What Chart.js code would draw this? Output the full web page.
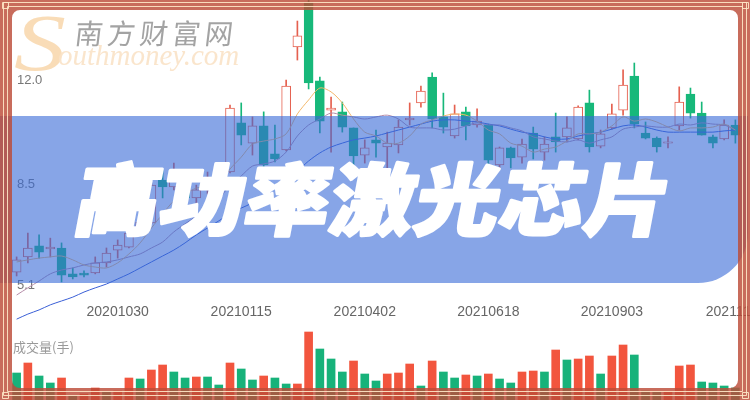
<!DOCTYPE html>
<html>
<head>
<meta charset="utf-8">
<script src="https://cdn.jsdelivr.net/npm/chart.js@4.4.0/dist/chart.umd.min.js"></script>
<style>
  html, body { margin: 0; padding: 0; background: #fff; }
  #wrap { width: 750px; height: 400px; position: relative; overflow: hidden; }
</style>
</head>
<body>
<div id="wrap"><canvas id="kline" width="750" height="400"></canvas></div>
<script>
// weekly candles, 20200828 .. 20211119
const dates = [
  "20200828","20200904","20200911","20200918","20200925","20201002","20201009","20201016","20201023","20201030",
  "20201106","20201113","20201120","20201127","20201204","20201211","20201218","20201225","20210101","20210108",
  "20210115","20210122","20210129","20210205","20210212","20210219","20210226","20210305","20210312","20210319",
  "20210326","20210402","20210409","20210416","20210423","20210430","20210507","20210514","20210521","20210528",
  "20210604","20210611","20210618","20210625","20210702","20210709","20210716","20210723","20210730","20210806",
  "20210813","20210820","20210827","20210903","20210910","20210917","20210924","20211001","20211008","20211015",
  "20211022","20211029","20211105","20211112","20211119"
];
const tickDates = ["20201030", "20210115", "20210402", "20210618", "20210903", "20211119"];
const yTicks = [5.1, 8.5, 12.0];

const openP = [
  5.55, 6.06, 6.43, 6.33, 6.36, 5.49, 5.52, 5.52, 5.86, 6.29,
  6.39, 6.90, 7.20, 8.64, 8.41, 8.58, 8.04, 8.31, 8.64, 8.91,
  10.56, 9.88, 10.46, 9.52, 9.65, 13.11, 14.62, 11.97, 10.99, 10.93,
  10.39, 9.48, 9.99, 9.75, 9.82, 10.66, 11.23, 12.10, 10.76, 10.12,
  10.93, 10.49, 10.49, 9.15, 9.72, 9.41, 10.22, 9.58, 10.09, 10.09,
  10.02, 11.23, 9.78, 10.39, 10.99, 12.13, 10.22, 10.05, 9.88, 10.46,
  11.53, 10.89, 10.09, 10.02, 10.49
];
const highP = [
  6.06, 6.86, 6.80, 6.69, 6.53, 5.69, 5.59, 6.06, 6.36, 6.63,
  7.30, 7.50, 8.54, 8.98, 9.21, 8.81, 8.47, 8.91, 9.15, 11.16,
  11.23, 10.76, 10.93, 10.49, 12.00, 13.98, 14.69, 12.10, 11.43, 11.26,
  10.39, 9.99, 10.32, 10.25, 10.66, 11.23, 11.80, 12.24, 11.56, 11.16,
  11.09, 11.03, 10.52, 9.75, 9.75, 10.02, 10.42, 10.09, 10.89, 10.76,
  11.13, 11.66, 10.32, 11.19, 12.34, 12.57, 10.59, 10.09, 10.09, 11.77,
  11.73, 11.26, 10.15, 10.66, 10.66
];
const lowP = [
  5.42, 5.86, 6.02, 6.06, 5.22, 5.32, 5.39, 5.49, 5.72, 6.02,
  6.36, 6.76, 7.17, 8.04, 8.31, 7.80, 7.87, 8.17, 8.47, 8.88,
  9.82, 9.48, 8.98, 9.25, 9.62, 12.67, 11.70, 10.22, 9.58, 10.25,
  9.05, 9.21, 9.41, 9.05, 9.55, 10.49, 11.09, 10.39, 10.22, 10.05,
  9.99, 10.42, 9.05, 9.05, 9.05, 9.21, 9.35, 9.31, 9.58, 9.92,
  9.99, 9.58, 9.72, 10.35, 10.82, 10.39, 10.02, 9.58, 9.72, 10.32,
  10.72, 10.15, 9.72, 9.99, 9.88
];
const closeP = [
  5.96, 6.36, 6.22, 6.39, 5.45, 5.39, 5.45, 5.86, 6.19, 6.46,
  6.86, 7.23, 8.47, 8.41, 8.64, 8.04, 8.31, 8.71, 8.91, 11.06,
  10.15, 10.46, 9.15, 9.35, 11.80, 13.48, 11.90, 10.62, 11.06, 10.42,
  9.45, 9.72, 9.88, 9.88, 10.42, 10.72, 11.63, 10.69, 10.42, 10.86,
  10.46, 10.62, 9.31, 9.72, 9.38, 9.85, 9.68, 9.85, 9.92, 10.39,
  11.09, 9.75, 10.19, 10.86, 11.83, 10.52, 10.05, 9.75, 9.92, 11.26,
  10.89, 10.15, 9.88, 10.49, 10.15
];
const ma5 = [
  5.89, 5.96, 6.02, 6.06, 6.09, 5.96, 5.79, 5.72, 5.69, 5.86,
  6.16, 6.53, 7.03, 7.50, 7.94, 8.17, 8.37, 8.41, 8.51, 9.01,
  9.41, 9.85, 9.95, 10.02, 10.19, 10.86, 11.33, 11.73, 11.60, 11.23,
  10.69, 10.25, 10.12, 9.88, 9.88, 10.12, 10.52, 10.66, 10.79, 10.86,
  10.82, 10.62, 10.32, 10.19, 9.88, 9.78, 9.58, 9.68, 9.75, 9.95,
  10.19, 10.19, 10.25, 10.46, 10.76, 10.62, 10.69, 10.59, 10.42, 10.29,
  10.39, 10.39, 10.42, 10.52, 10.32
];
const ma10 = [
  4.78, 5.02, 5.25, 5.49, 5.62, 5.69, 5.79, 5.86, 5.89, 5.96,
  6.06, 6.16, 6.36, 6.56, 6.90, 7.17, 7.43, 7.74, 8.00, 8.47,
  8.78, 9.11, 9.18, 9.28, 9.58, 10.12, 10.49, 10.69, 10.89, 10.82,
  10.76, 10.69, 10.76, 10.82, 10.69, 10.42, 10.39, 10.39, 10.32, 10.35,
  10.46, 10.56, 10.49, 10.49, 10.39, 10.29, 10.09, 10.02, 9.95, 9.92,
  9.99, 9.88, 9.99, 10.09, 10.35, 10.42, 10.46, 10.42, 10.42, 10.52,
  10.49, 10.56, 10.52, 10.49, 10.32
];
const ma20 = [
  3.97, 4.14, 4.28, 4.45, 4.58, 4.71, 4.88, 5.02, 5.15, 5.32,
  5.49, 5.69, 5.89, 6.09, 6.29, 6.53, 6.80, 7.03, 7.27, 7.50,
  7.70, 7.87, 8.10, 8.37, 8.64, 8.94, 9.28, 9.55, 9.75, 9.88,
  9.99, 10.05, 10.12, 10.22, 10.32, 10.42, 10.52, 10.62, 10.66, 10.66,
  10.62, 10.59, 10.52, 10.46, 10.35, 10.25, 10.19, 10.09, 10.02, 10.02,
  10.12, 10.19, 10.25, 10.35, 10.46, 10.49, 10.42, 10.32, 10.25, 10.25,
  10.25, 10.25, 10.25, 10.29, 10.32
];
// volume in 千手, and whether the bar is drawn red (1) or green (0)
const volume = [
  27, 37, 24, 17, 22, 4, 6, 12, 8, 9,
  22, 21, 30, 35, 28, 22, 23, 23, 15, 37,
  31, 20, 24, 22, 16, 16, 68, 51, 41, 28,
  39, 26, 19, 26, 27, 36, 14, 39, 28, 22,
  25, 24, 26, 21, 17, 28, 29, 28, 50, 40,
  41, 44, 26, 44, 55, 45, 9, 8, 8, 34,
  35, 18, 17, 14, 12
];
const volUp = [
  0, 1, 0, 0, 1, 0, 1, 1, 0, 1,
  1, 0, 1, 1, 0, 0, 1, 0, 0, 1,
  0, 0, 1, 0, 0, 1, 1, 0, 0, 0,
  1, 0, 0, 1, 1, 1, 0, 1, 0, 0,
  1, 0, 1, 0, 0, 1, 1, 0, 1, 0,
  1, 1, 0, 1, 1, 0, 0, 0, 1, 1,
  1, 0, 0, 0, 0
];

const RED = "#e5604f";
const GREEN = "#17b87a";
const isUp = closeP.map((c, i) => c >= openP[i]);

// overlay: watermark, blue banner, title, frame
const overlay = {
  id: "overlay",
  afterDraw(chart) {
    const ctx = chart.ctx;
    ctx.save();

    // watermark
    ctx.textBaseline = "alphabetic";
    ctx.textAlign = "left";
    ctx.fillStyle = "rgba(248,214,170,0.85)";
    ctx.font = "italic 80px 'Liberation Serif'";
    ctx.save();
    ctx.translate(14, 70);
    ctx.scale(1.3, 1);
    ctx.fillText("S", 0, 0);
    ctx.restore();
    ctx.fillStyle = "rgba(250,226,198,0.9)";
    ctx.font = "italic 29px 'Liberation Serif'";
    ctx.fillText("outhmoney.com", 58, 65);
    ctx.fillStyle = "rgba(140,140,140,0.8)";
    ctx.font = "28px 'Noto Sans CJK SC'";
    ctx.textBaseline = "middle";
    const wm = "南方财富网";
    for (let i = 0; i < wm.length; i++) {
      ctx.save();
      ctx.translate(89 + i * 32.5, 33);
      ctx.transform(1, 0, -0.12, 1, 0, 0);
      ctx.textAlign = "center";
      ctx.fillText(wm[i], 0, 0);
      ctx.restore();
    }

    // volume title
    ctx.fillStyle = "#999";
    ctx.font = "13px 'Noto Sans CJK SC'";
    ctx.textAlign = "left";
    ctx.fillText("成交量(手)", 13, 347);

    // blue banner
    ctx.fillStyle = "rgba(55,105,215,0.6)";
    ctx.beginPath();
    ctx.roundRect(0, 116, 748, 167, [0, 0, 50, 0]);
    ctx.fill();

    // title text
    const title = "高功率激光芯片";
    ctx.fillStyle = "#fff";
    ctx.strokeStyle = "#fff";
    ctx.lineWidth = 3;
    ctx.lineJoin = "round";
    ctx.font = "900 78px 'Noto Sans CJK SC'";
    ctx.textAlign = "center";
    ctx.textBaseline = "middle";
    for (let i = 0; i < title.length; i++) {
      ctx.save();
      ctx.translate(119 + i * 85, 199);
      ctx.transform(1.08, 0, -0.19, 1, 0, 0);
      ctx.strokeText(title[i], 0, 0);
      ctx.fillText(title[i], 0, 0);
      ctx.restore();
    }

    // frame
    ctx.fillStyle = "rgba(188,76,56,0.82)";
    ctx.beginPath();
    ctx.rect(0, 0, 750, 400);
    ctx.roundRect(12, 10, 726, 378, 8);
    ctx.fill("evenodd");
    ctx.strokeStyle = "rgba(255,232,200,0.9)";
    ctx.lineWidth = 1;
    ctx.strokeRect(3.5, 2.5, 743, 393);
    ctx.strokeRect(7.5, 6.5, 735, 385);
    // corner knots
    [[1, 1], [741, 1], [1, 391], [741, 391]].forEach(([x, y]) => {
      ctx.strokeRect(x + 1.5, y + 1.5, 6, 6);
    });
    ctx.restore();
  }
};

const ctx = document.getElementById("kline");

const kline = new Chart(ctx, {
  type: "bar",
  data: {
    labels: dates,
    datasets: [
      {
        label: "MA5",
        type: "line",
        data: ma5,
        borderColor: "#f3b86c",
        borderWidth: 1,
        pointRadius: 0,
        tension: 0.3,
        yAxisID: "y",
        order: 1
      },
      {
        label: "MA10",
        type: "line",
        data: ma10,
        borderColor: "#b58ca8",
        borderWidth: 1,
        pointRadius: 0,
        tension: 0.3,
        yAxisID: "y",
        order: 1
      },
      {
        label: "MA20",
        type: "line",
        data: ma20,
        borderColor: "#3a5fd6",
        borderWidth: 1,
        pointRadius: 0,
        tension: 0.3,
        yAxisID: "y",
        order: 1
      },
      {
        label: "body",
        data: openP.map((o, i) => [o, closeP[i]]),
        backgroundColor: isUp.map(u => (u ? "#ffffff" : GREEN)),
        borderColor: isUp.map(u => (u ? RED : GREEN)),
        borderWidth: 1,
        borderSkipped: false,
        barThickness: 9,
        grouped: false,
        yAxisID: "y",
        order: 2
      },
      {
        label: "wick",
        data: lowP.map((l, i) => [l, highP[i]]),
        backgroundColor: isUp.map(u => (u ? RED : GREEN)),
        barThickness: 1,
        grouped: false,
        yAxisID: "y",
        order: 3
      },
      {
        label: "volume",
        data: volume,
        backgroundColor: volUp.map(u => (u ? "#f2553e" : "#17b27a")),
        barThickness: 8,
        grouped: false,
        yAxisID: "yv",
        order: 4
      }
    ]
  },
  options: {
    responsive: false,
    devicePixelRatio: 1,
    animation: false,
    layout: {
      padding: { left: 11, right: 9, top: 0, bottom: 0 }
    },
    plugins: {
      legend: { display: false },
      tooltip: { enabled: false }
    },
    scales: {
      x: {
        type: "category",
        offset: true,
        position: { y: 4.82 },
        grid: { display: false },
        border: { display: false },
        ticks: {
          autoSkip: false,
          maxRotation: 0,
          padding: 2,
          color: "#666",
          font: { family: "'Liberation Sans'", size: 14 },
          callback: (v, i) => (tickDates.includes(dates[i]) ? dates[i] : "")
        },
        afterFit: s => {
          s.height = 0;
          s.paddingLeft = 0;
          s.paddingRight = 0;
        }
      },
      y: {
        type: "linear",
        position: "left",
        min: 1.2555,
        max: 14.6861,
        grid: { display: false },
        border: { display: false },
        ticks: {
          mirror: true,
          padding: 6,
          color: "#777",
          font: { family: "'Liberation Sans'", size: 13 },
          callback: v => v.toFixed(1)
        },
        afterBuildTicks: s => {
          s.ticks = yTicks.map(v => ({ value: v }));
        },
        afterFit: s => {
          s.width = 0;
          s.paddingTop = 0;
          s.paddingBottom = 0;
        }
      },
      yv: {
        type: "linear",
        display: false,
        min: 0,
        max: 400
      }
    }
  },
  plugins: [overlay]
});
</script>
</body>
</html>
